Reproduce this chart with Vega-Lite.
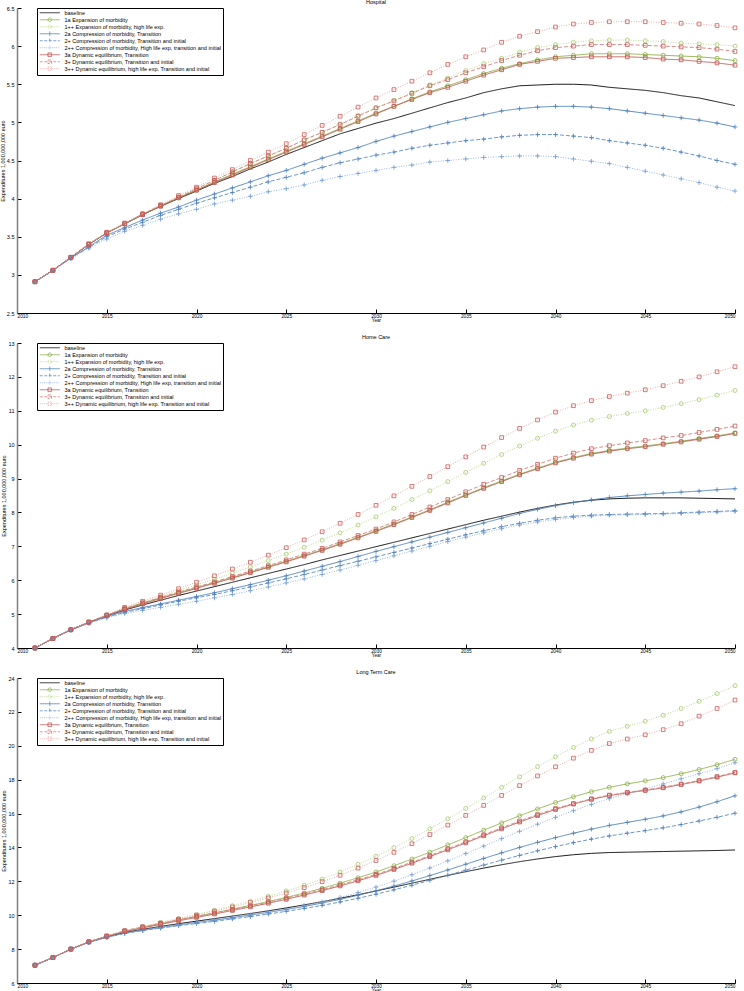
{
"$schema": "https://vega.github.io/schema/vega-lite/v6.json",
"padding": {"left": 0, "top": 0, "right": 6, "bottom": 0},
"config": {
  "view": {"stroke": null},
  "font": "Liberation Sans",
  "title": {"fontSize": 5.5, "fontWeight": "normal", "font": "Liberation Sans", "offset": 0.5, "color": "black", "frame": "group"},
  "axis": {"labelFont": "Liberation Sans", "labelFontSize": 5.5, "titleFont": "Liberation Sans", "titleFontSize": 5.5, "titleFontWeight": "normal", "grid": false, "tickSize": -4, "labelPadding": 7, "domainColor": "black", "tickColor": "black", "labelColor": "black", "titleColor": "black", "tickWidth": 1, "domainWidth": 1},
  "axisY": {"domainColor": "#808080", "domainWidth": 1.5, "titlePadding": 1},
  "axisX": {"titlePadding": 0, "labelPadding": 4, "labelFontSize": 4.8, "titleFontSize": 4.6},
  "legend": {"orient": "none", "legendX": 20, "legendY": 0, "padding": 2, "strokeColor": "black", "fillColor": "white", "labelFont": "Liberation Sans", "labelFontSize": 5.5, "labelLimit": 300, "symbolSize": 16, "symbolStrokeWidth": 0.8, "rowPadding": -2, "labelOffset": 20, "title": null}
},
"datasets": {
"hosp": [
{"year":2011,"b":2.91,"1a":2.91,"1pp":2.91,"2a":2.91,"2p":2.91,"2pp":2.91,"3a":2.91,"3p":2.91,"3pp":2.91},
{"year":2012,"b":3.06,"1a":3.06,"1pp":3.06,"2a":3.06,"2p":3.06,"2pp":3.06,"3a":3.06,"3p":3.06,"3pp":3.06},
{"year":2013,"b":3.23,"1a":3.23,"1pp":3.23,"2a":3.22,"2p":3.22,"2pp":3.21,"3a":3.23,"3p":3.23,"3pp":3.23},
{"year":2014,"b":3.40,"1a":3.40,"1pp":3.40,"2a":3.37,"2p":3.36,"2pp":3.35,"3a":3.40,"3p":3.40,"3pp":3.41},
{"year":2015,"b":3.55,"1a":3.55,"1pp":3.55,"2a":3.52,"2p":3.50,"2pp":3.47,"3a":3.55,"3p":3.55,"3pp":3.56},
{"year":2016,"b":3.67,"1a":3.67,"1pp":3.67,"2a":3.62,"2p":3.60,"2pp":3.57,"3a":3.67,"3p":3.67,"3pp":3.68},
{"year":2017,"b":3.79,"1a":3.79,"1pp":3.80,"2a":3.72,"2p":3.69,"2pp":3.65,"3a":3.79,"3p":3.80,"3pp":3.80},
{"year":2018,"b":3.90,"1a":3.90,"1pp":3.91,"2a":3.81,"2p":3.78,"2pp":3.73,"3a":3.90,"3p":3.91,"3pp":3.92},
{"year":2019,"b":4.00,"1a":4.01,"1pp":4.02,"2a":3.89,"2p":3.86,"2pp":3.80,"3a":4.01,"3p":4.02,"3pp":4.04},
{"year":2020,"b":4.10,"1a":4.11,"1pp":4.13,"2a":3.98,"2p":3.94,"2pp":3.86,"3a":4.11,"3p":4.13,"3pp":4.15},
{"year":2021,"b":4.20,"1a":4.22,"1pp":4.24,"2a":4.06,"2p":4.01,"2pp":3.93,"3a":4.21,"3p":4.24,"3pp":4.27},
{"year":2022,"b":4.29,"1a":4.32,"1pp":4.35,"2a":4.14,"2p":4.08,"2pp":3.98,"3a":4.31,"3p":4.35,"3pp":4.38},
{"year":2023,"b":4.39,"1a":4.42,"1pp":4.46,"2a":4.22,"2p":4.15,"2pp":4.03,"3a":4.41,"3p":4.46,"3pp":4.50},
{"year":2024,"b":4.48,"1a":4.52,"1pp":4.56,"2a":4.30,"2p":4.22,"2pp":4.09,"3a":4.51,"3p":4.56,"3pp":4.61},
{"year":2025,"b":4.58,"1a":4.62,"1pp":4.66,"2a":4.37,"2p":4.28,"2pp":4.13,"3a":4.61,"3p":4.66,"3pp":4.72},
{"year":2026,"b":4.67,"1a":4.72,"1pp":4.77,"2a":4.45,"2p":4.34,"2pp":4.18,"3a":4.71,"3p":4.77,"3pp":4.84},
{"year":2027,"b":4.76,"1a":4.82,"1pp":4.87,"2a":4.53,"2p":4.41,"2pp":4.24,"3a":4.81,"3p":4.87,"3pp":4.96},
{"year":2028,"b":4.85,"1a":4.92,"1pp":4.98,"2a":4.60,"2p":4.47,"2pp":4.29,"3a":4.91,"3p":4.97,"3pp":5.08},
{"year":2029,"b":4.92,"1a":5.02,"1pp":5.09,"2a":4.67,"2p":4.52,"2pp":4.33,"3a":5.01,"3p":5.08,"3pp":5.20},
{"year":2030,"b":4.99,"1a":5.12,"1pp":5.19,"2a":4.75,"2p":4.57,"2pp":4.37,"3a":5.11,"3p":5.19,"3pp":5.32},
{"year":2031,"b":5.05,"1a":5.21,"1pp":5.29,"2a":4.82,"2p":4.61,"2pp":4.41,"3a":5.21,"3p":5.28,"3pp":5.43},
{"year":2032,"b":5.12,"1a":5.31,"1pp":5.39,"2a":4.88,"2p":4.66,"2pp":4.44,"3a":5.30,"3p":5.38,"3pp":5.54},
{"year":2033,"b":5.19,"1a":5.40,"1pp":5.49,"2a":4.94,"2p":4.70,"2pp":4.48,"3a":5.39,"3p":5.48,"3pp":5.65},
{"year":2034,"b":5.26,"1a":5.48,"1pp":5.58,"2a":5.00,"2p":4.73,"2pp":4.50,"3a":5.46,"3p":5.56,"3pp":5.76},
{"year":2035,"b":5.32,"1a":5.56,"1pp":5.68,"2a":5.05,"2p":4.76,"2pp":4.52,"3a":5.54,"3p":5.65,"3pp":5.86},
{"year":2036,"b":5.39,"1a":5.64,"1pp":5.77,"2a":5.10,"2p":4.78,"2pp":4.54,"3a":5.62,"3p":5.73,"3pp":5.95},
{"year":2037,"b":5.44,"1a":5.71,"1pp":5.84,"2a":5.15,"2p":4.81,"2pp":4.55,"3a":5.69,"3p":5.81,"3pp":6.05},
{"year":2038,"b":5.48,"1a":5.77,"1pp":5.92,"2a":5.18,"2p":4.83,"2pp":4.56,"3a":5.76,"3p":5.88,"3pp":6.13},
{"year":2039,"b":5.49,"1a":5.82,"1pp":5.98,"2a":5.20,"2p":4.84,"2pp":4.56,"3a":5.80,"3p":5.94,"3pp":6.19},
{"year":2040,"b":5.50,"1a":5.86,"1pp":6.02,"2a":5.21,"2p":4.84,"2pp":4.55,"3a":5.84,"3p":5.98,"3pp":6.25},
{"year":2041,"b":5.50,"1a":5.88,"1pp":6.05,"2a":5.21,"2p":4.82,"2pp":4.52,"3a":5.85,"3p":6.00,"3pp":6.29},
{"year":2042,"b":5.49,"1a":5.90,"1pp":6.07,"2a":5.20,"2p":4.80,"2pp":4.49,"3a":5.86,"3p":6.02,"3pp":6.31},
{"year":2043,"b":5.46,"1a":5.90,"1pp":6.08,"2a":5.18,"2p":4.76,"2pp":4.46,"3a":5.86,"3p":6.02,"3pp":6.32},
{"year":2044,"b":5.44,"1a":5.90,"1pp":6.08,"2a":5.15,"2p":4.73,"2pp":4.41,"3a":5.86,"3p":6.02,"3pp":6.32},
{"year":2045,"b":5.42,"1a":5.89,"1pp":6.07,"2a":5.12,"2p":4.70,"2pp":4.36,"3a":5.85,"3p":6.01,"3pp":6.32},
{"year":2046,"b":5.39,"1a":5.88,"1pp":6.06,"2a":5.09,"2p":4.66,"2pp":4.31,"3a":5.83,"3p":6.00,"3pp":6.31},
{"year":2047,"b":5.35,"1a":5.87,"1pp":6.04,"2a":5.06,"2p":4.61,"2pp":4.26,"3a":5.82,"3p":5.99,"3pp":6.30},
{"year":2048,"b":5.32,"1a":5.86,"1pp":6.03,"2a":5.03,"2p":4.56,"2pp":4.21,"3a":5.80,"3p":5.98,"3pp":6.29},
{"year":2049,"b":5.27,"1a":5.84,"1pp":6.02,"2a":4.99,"2p":4.50,"2pp":4.15,"3a":5.78,"3p":5.96,"3pp":6.27},
{"year":2050,"b":5.22,"1a":5.81,"1pp":6.00,"2a":4.94,"2p":4.45,"2pp":4.10,"3a":5.75,"3p":5.93,"3pp":6.24}
],
"home": [
{"year":2011,"b":4.00,"1a":4.00,"1pp":4.00,"2a":4.00,"2p":4.00,"2pp":4.00,"3a":4.00,"3p":4.00,"3pp":4.00},
{"year":2012,"b":4.28,"1a":4.28,"1pp":4.28,"2a":4.28,"2p":4.28,"2pp":4.28,"3a":4.28,"3p":4.28,"3pp":4.28},
{"year":2013,"b":4.54,"1a":4.54,"1pp":4.54,"2a":4.53,"2p":4.53,"2pp":4.53,"3a":4.54,"3p":4.54,"3pp":4.54},
{"year":2014,"b":4.76,"1a":4.76,"1pp":4.76,"2a":4.74,"2p":4.74,"2pp":4.73,"3a":4.76,"3p":4.76,"3pp":4.77},
{"year":2015,"b":4.95,"1a":4.96,"1pp":4.97,"2a":4.93,"2p":4.91,"2pp":4.89,"3a":4.96,"3p":4.96,"3pp":4.98},
{"year":2016,"b":5.12,"1a":5.16,"1pp":5.18,"2a":5.08,"2p":5.05,"2pp":5.02,"3a":5.14,"3p":5.16,"3pp":5.20},
{"year":2017,"b":5.27,"1a":5.32,"1pp":5.35,"2a":5.19,"2p":5.16,"2pp":5.11,"3a":5.30,"3p":5.33,"3pp":5.38},
{"year":2018,"b":5.41,"1a":5.48,"1pp":5.52,"2a":5.30,"2p":5.27,"2pp":5.20,"3a":5.46,"3p":5.49,"3pp":5.56},
{"year":2019,"b":5.55,"1a":5.63,"1pp":5.69,"2a":5.41,"2p":5.38,"2pp":5.29,"3a":5.61,"3p":5.65,"3pp":5.75},
{"year":2020,"b":5.68,"1a":5.78,"1pp":5.86,"2a":5.52,"2p":5.48,"2pp":5.38,"3a":5.76,"3p":5.80,"3pp":5.94},
{"year":2021,"b":5.81,"1a":5.93,"1pp":6.03,"2a":5.63,"2p":5.58,"2pp":5.48,"3a":5.91,"3p":5.95,"3pp":6.13},
{"year":2022,"b":5.94,"1a":6.08,"1pp":6.21,"2a":5.75,"2p":5.69,"2pp":5.58,"3a":6.06,"3p":6.11,"3pp":6.33},
{"year":2023,"b":6.07,"1a":6.24,"1pp":6.39,"2a":5.87,"2p":5.80,"2pp":5.69,"3a":6.22,"3p":6.27,"3pp":6.53},
{"year":2024,"b":6.20,"1a":6.40,"1pp":6.58,"2a":6.00,"2p":5.92,"2pp":5.80,"3a":6.38,"3p":6.43,"3pp":6.74},
{"year":2025,"b":6.33,"1a":6.56,"1pp":6.77,"2a":6.13,"2p":6.04,"2pp":5.92,"3a":6.54,"3p":6.60,"3pp":6.96},
{"year":2026,"b":6.46,"1a":6.73,"1pp":6.97,"2a":6.27,"2p":6.17,"2pp":6.04,"3a":6.71,"3p":6.77,"3pp":7.19},
{"year":2027,"b":6.60,"1a":6.90,"1pp":7.18,"2a":6.41,"2p":6.30,"2pp":6.17,"3a":6.88,"3p":6.94,"3pp":7.43},
{"year":2028,"b":6.73,"1a":7.08,"1pp":7.40,"2a":6.55,"2p":6.43,"2pp":6.30,"3a":7.06,"3p":7.13,"3pp":7.68},
{"year":2029,"b":6.86,"1a":7.27,"1pp":7.63,"2a":6.70,"2p":6.56,"2pp":6.44,"3a":7.25,"3p":7.32,"3pp":7.94},
{"year":2030,"b":6.99,"1a":7.46,"1pp":7.87,"2a":6.85,"2p":6.69,"2pp":6.58,"3a":7.44,"3p":7.51,"3pp":8.21},
{"year":2031,"b":7.12,"1a":7.66,"1pp":8.12,"2a":6.99,"2p":6.82,"2pp":6.72,"3a":7.64,"3p":7.72,"3pp":8.49},
{"year":2032,"b":7.25,"1a":7.87,"1pp":8.38,"2a":7.13,"2p":6.95,"2pp":6.86,"3a":7.85,"3p":7.94,"3pp":8.77},
{"year":2033,"b":7.38,"1a":8.08,"1pp":8.64,"2a":7.27,"2p":7.08,"2pp":7.00,"3a":8.06,"3p":8.16,"3pp":9.06},
{"year":2034,"b":7.51,"1a":8.30,"1pp":8.91,"2a":7.41,"2p":7.21,"2pp":7.14,"3a":8.28,"3p":8.38,"3pp":9.35},
{"year":2035,"b":7.64,"1a":8.52,"1pp":9.18,"2a":7.55,"2p":7.34,"2pp":7.27,"3a":8.50,"3p":8.61,"3pp":9.64},
{"year":2036,"b":7.77,"1a":8.73,"1pp":9.45,"2a":7.69,"2p":7.46,"2pp":7.40,"3a":8.71,"3p":8.83,"3pp":9.93},
{"year":2037,"b":7.89,"1a":8.93,"1pp":9.71,"2a":7.83,"2p":7.58,"2pp":7.52,"3a":8.91,"3p":9.03,"3pp":10.21},
{"year":2038,"b":8.01,"1a":9.13,"1pp":9.96,"2a":7.97,"2p":7.68,"2pp":7.63,"3a":9.11,"3p":9.24,"3pp":10.48},
{"year":2039,"b":8.12,"1a":9.31,"1pp":10.19,"2a":8.09,"2p":7.77,"2pp":7.72,"3a":9.29,"3p":9.42,"3pp":10.73},
{"year":2040,"b":8.22,"1a":9.48,"1pp":10.40,"2a":8.20,"2p":7.84,"2pp":7.79,"3a":9.46,"3p":9.60,"3pp":10.96},
{"year":2041,"b":8.30,"1a":9.62,"1pp":10.58,"2a":8.29,"2p":7.89,"2pp":7.85,"3a":9.60,"3p":9.75,"3pp":11.15},
{"year":2042,"b":8.36,"1a":9.74,"1pp":10.72,"2a":8.37,"2p":7.92,"2pp":7.89,"3a":9.72,"3p":9.88,"3pp":11.30},
{"year":2043,"b":8.40,"1a":9.83,"1pp":10.83,"2a":8.44,"2p":7.94,"2pp":7.92,"3a":9.81,"3p":9.97,"3pp":11.42},
{"year":2044,"b":8.42,"1a":9.90,"1pp":10.92,"2a":8.49,"2p":7.95,"2pp":7.93,"3a":9.88,"3p":10.05,"3pp":11.52},
{"year":2045,"b":8.43,"1a":9.96,"1pp":11.00,"2a":8.53,"2p":7.96,"2pp":7.94,"3a":9.94,"3p":10.12,"3pp":11.62},
{"year":2046,"b":8.43,"1a":10.03,"1pp":11.10,"2a":8.57,"2p":7.97,"2pp":7.95,"3a":10.01,"3p":10.20,"3pp":11.74},
{"year":2047,"b":8.43,"1a":10.10,"1pp":11.21,"2a":8.60,"2p":7.99,"2pp":7.97,"3a":10.08,"3p":10.27,"3pp":11.87},
{"year":2048,"b":8.42,"1a":10.18,"1pp":11.33,"2a":8.63,"2p":8.01,"2pp":7.99,"3a":10.16,"3p":10.36,"3pp":12.00},
{"year":2049,"b":8.41,"1a":10.26,"1pp":11.46,"2a":8.67,"2p":8.03,"2pp":8.01,"3a":10.24,"3p":10.45,"3pp":12.15},
{"year":2050,"b":8.40,"1a":10.35,"1pp":11.60,"2a":8.70,"2p":8.05,"2pp":8.03,"3a":10.33,"3p":10.55,"3pp":12.30}
],
"ltc": [
{"year":2011,"b":7.05,"1a":7.05,"1pp":7.05,"2a":7.05,"2p":7.05,"2pp":7.05,"3a":7.05,"3p":7.05,"3pp":7.05},
{"year":2012,"b":7.50,"1a":7.50,"1pp":7.50,"2a":7.50,"2p":7.50,"2pp":7.50,"3a":7.50,"3p":7.50,"3pp":7.50},
{"year":2013,"b":8.00,"1a":8.00,"1pp":8.00,"2a":8.00,"2p":8.00,"2pp":8.00,"3a":8.00,"3p":8.00,"3pp":8.00},
{"year":2014,"b":8.42,"1a":8.43,"1pp":8.43,"2a":8.40,"2p":8.40,"2pp":8.40,"3a":8.43,"3p":8.43,"3pp":8.43},
{"year":2015,"b":8.73,"1a":8.76,"1pp":8.77,"2a":8.70,"2p":8.69,"2pp":8.70,"3a":8.75,"3p":8.77,"3pp":8.77},
{"year":2016,"b":8.98,"1a":9.05,"1pp":9.08,"2a":8.95,"2p":8.93,"2pp":8.93,"3a":9.03,"3p":9.09,"3pp":9.07},
{"year":2017,"b":9.17,"1a":9.28,"1pp":9.33,"2a":9.12,"2p":9.09,"2pp":9.09,"3a":9.25,"3p":9.31,"3pp":9.31},
{"year":2018,"b":9.34,"1a":9.50,"1pp":9.57,"2a":9.28,"2p":9.24,"2pp":9.25,"3a":9.46,"3p":9.52,"3pp":9.54},
{"year":2019,"b":9.50,"1a":9.72,"1pp":9.81,"2a":9.43,"2p":9.38,"2pp":9.40,"3a":9.67,"3p":9.73,"3pp":9.77},
{"year":2020,"b":9.65,"1a":9.93,"1pp":10.05,"2a":9.57,"2p":9.51,"2pp":9.54,"3a":9.87,"3p":9.93,"3pp":10.00},
{"year":2021,"b":9.80,"1a":10.14,"1pp":10.30,"2a":9.71,"2p":9.64,"2pp":9.68,"3a":10.07,"3p":10.13,"3pp":10.24},
{"year":2022,"b":9.95,"1a":10.36,"1pp":10.56,"2a":9.86,"2p":9.78,"2pp":9.83,"3a":10.28,"3p":10.34,"3pp":10.49},
{"year":2023,"b":10.10,"1a":10.58,"1pp":10.83,"2a":10.01,"2p":9.92,"2pp":9.99,"3a":10.49,"3p":10.55,"3pp":10.75},
{"year":2024,"b":10.26,"1a":10.81,"1pp":11.12,"2a":10.17,"2p":10.07,"2pp":10.16,"3a":10.71,"3p":10.77,"3pp":11.02},
{"year":2025,"b":10.43,"1a":11.05,"1pp":11.43,"2a":10.34,"2p":10.23,"2pp":10.35,"3a":10.94,"3p":11.00,"3pp":11.31},
{"year":2026,"b":10.61,"1a":11.31,"1pp":11.77,"2a":10.52,"2p":10.40,"2pp":10.56,"3a":11.19,"3p":11.25,"3pp":11.63},
{"year":2027,"b":10.80,"1a":11.59,"1pp":12.14,"2a":10.72,"2p":10.58,"2pp":10.79,"3a":11.45,"3p":11.51,"3pp":11.98},
{"year":2028,"b":11.00,"1a":11.89,"1pp":12.55,"2a":10.94,"2p":10.78,"2pp":11.05,"3a":11.73,"3p":11.79,"3pp":12.36},
{"year":2029,"b":11.21,"1a":12.21,"1pp":13.00,"2a":11.18,"2p":11.00,"2pp":11.34,"3a":12.03,"3p":12.09,"3pp":12.78},
{"year":2030,"b":11.43,"1a":12.55,"1pp":13.48,"2a":11.44,"2p":11.24,"2pp":11.66,"3a":12.35,"3p":12.41,"3pp":13.23},
{"year":2031,"b":11.66,"1a":12.92,"1pp":13.99,"2a":11.72,"2p":11.50,"2pp":12.01,"3a":12.70,"3p":12.76,"3pp":13.71},
{"year":2032,"b":11.89,"1a":13.31,"1pp":14.53,"2a":12.02,"2p":11.77,"2pp":12.39,"3a":13.07,"3p":13.13,"3pp":14.22},
{"year":2033,"b":12.12,"1a":13.72,"1pp":15.10,"2a":12.34,"2p":12.06,"2pp":12.79,"3a":13.46,"3p":13.52,"3pp":14.76},
{"year":2034,"b":12.35,"1a":14.15,"1pp":15.69,"2a":12.67,"2p":12.36,"2pp":13.21,"3a":13.86,"3p":13.92,"3pp":15.32},
{"year":2035,"b":12.57,"1a":14.58,"1pp":16.30,"2a":13.01,"2p":12.66,"2pp":13.64,"3a":14.27,"3p":14.33,"3pp":15.89},
{"year":2036,"b":12.78,"1a":15.02,"1pp":16.92,"2a":13.35,"2p":12.96,"2pp":14.08,"3a":14.69,"3p":14.75,"3pp":16.48},
{"year":2037,"b":12.98,"1a":15.45,"1pp":17.55,"2a":13.68,"2p":13.25,"2pp":14.52,"3a":15.10,"3p":15.16,"3pp":17.07},
{"year":2038,"b":13.16,"1a":15.87,"1pp":18.17,"2a":14.00,"2p":13.53,"2pp":14.95,"3a":15.50,"3p":15.56,"3pp":17.65},
{"year":2039,"b":13.32,"1a":16.27,"1pp":18.77,"2a":14.30,"2p":13.80,"2pp":15.37,"3a":15.88,"3p":15.94,"3pp":18.22},
{"year":2040,"b":13.46,"1a":16.65,"1pp":19.35,"2a":14.58,"2p":14.05,"2pp":15.78,"3a":16.24,"3p":16.30,"3pp":18.76},
{"year":2041,"b":13.57,"1a":16.99,"1pp":19.90,"2a":14.84,"2p":14.28,"2pp":16.17,"3a":16.56,"3p":16.59,"3pp":19.27},
{"year":2042,"b":13.65,"1a":17.29,"1pp":20.40,"2a":15.08,"2p":14.49,"2pp":16.54,"3a":16.84,"3p":16.87,"3pp":19.73},
{"year":2043,"b":13.70,"1a":17.55,"1pp":20.85,"2a":15.30,"2p":14.68,"2pp":16.88,"3a":17.06,"3p":17.09,"3pp":20.13},
{"year":2044,"b":13.72,"1a":17.75,"1pp":21.15,"2a":15.48,"2p":14.84,"2pp":17.18,"3a":17.22,"3p":17.25,"3pp":20.40},
{"year":2045,"b":13.74,"1a":17.93,"1pp":21.45,"2a":15.66,"2p":14.99,"2pp":17.45,"3a":17.36,"3p":17.39,"3pp":20.65},
{"year":2046,"b":13.76,"1a":18.12,"1pp":21.80,"2a":15.86,"2p":15.16,"2pp":17.75,"3a":17.52,"3p":17.55,"3pp":20.95},
{"year":2047,"b":13.78,"1a":18.35,"1pp":22.20,"2a":16.10,"2p":15.35,"2pp":18.05,"3a":17.71,"3p":17.74,"3pp":21.30},
{"year":2048,"b":13.80,"1a":18.60,"1pp":22.62,"2a":16.38,"2p":15.56,"2pp":18.35,"3a":17.92,"3p":17.95,"3pp":21.75},
{"year":2049,"b":13.82,"1a":18.88,"1pp":23.08,"2a":16.70,"2p":15.78,"2pp":18.65,"3a":18.15,"3p":18.18,"3pp":22.20},
{"year":2050,"b":13.85,"1a":19.20,"1pp":23.55,"2a":17.05,"2p":16.02,"2pp":19.00,"3a":18.40,"3p":18.43,"3pp":22.70}
]
},
"spacing": 30,
"bounds": "flush",
"vconcat": [
{
 "title": "Hospital",
 "width": 718, "height": 305,
 "data": {"name": "hosp"},
 "transform": [{"fold": ["b","1a","1pp","2a","2p","2pp","3a","3p","3pp"], "as": ["series","value"]}],
 "encoding": {
  "x": {"field": "year", "type": "quantitative", "scale": {"domain": [2010,2050], "nice": false}, "axis": {"values": [2010,2015,2020,2025,2030,2035,2040,2045,2050], "format": "d", "title": "Year"}},
  "y": {"field": "value", "type": "quantitative", "scale": {"domain": [2.5,6.5], "nice": false, "zero": false}, "axis": {"values": [2.5,3,3.5,4,4.5,5,5.5,6,6.5], "format": "~g", "title": "Expenditures 1,000,000,000 euro"}}
 },
 "layer": [
  {"mark": {"type": "line", "strokeWidth": 0.9},
   "encoding": {
    "color": {"field": "series", "type": "nominal", "scale": {"domain": ["b","1a","1pp","2a","2p","2pp","3a","3p","3pp"], "range": ["#000000","#8CB045","#B9D58C","#4A7EBB","#5A8BC8","#8FB0E0","#C0504D","#D77F7C","#E4A6A4"]},
     "legend": {"rowPadding": -2, "labelExpr": "datum.value === 'b' ? 'baseline' : datum.value === '1a' ? '1a Expansion of morbidity' : datum.value === '1pp' ? '1++ Expansion of morbidity, high life exp.' : datum.value === '2a' ? '2a Compression of morbidity, Transition' : datum.value === '2p' ? '2+ Compression of morbidity, Transition and initial' : datum.value === '2pp' ? '2++ Compression of morbidity, High life exp, transition and initial' : datum.value === '3a' ? '3a Dynamic equilibrium, Transition' : datum.value === '3p' ? '3+ Dynamic equilibrium, Transition and initial' : '3++ Dynamic equilibrium, high life exp. Transition and initial'",
      "encode": {"symbols": {"update": {"fill": {"value": "transparent"}, "strokeDash": {"signal": "(datum.value === '2p' || datum.value === '3p') ? [3,1.5] : (datum.value === '1pp' || datum.value === '2pp' || datum.value === '3pp') ? [1,1] : [1,0]"}, "shape": {"signal": "datum.value === 'b' ? 'M-1,0H9' : (datum.value === '1a' || datum.value === '1pp') ? 'M-1,0H9M4.9,0A0.9,0.9 0 1 1 3.1,0A0.9,0.9 0 1 1 4.9,0' : (datum.value === '2a' || datum.value === '2p' || datum.value === '2pp') ? 'M-1,0H9M4,-1.1V1.1' : 'M-1,0H9M3.1,-0.9H4.9V0.9H3.1Z'"}}}}}},
    "strokeDash": {"field": "series", "type": "nominal", "scale": {"domain": ["b","1a","1pp","2a","2p","2pp","3a","3p","3pp"], "range": [[1,0],[1,0],[1,1.5],[1,0],[4,2],[1,1.5],[1,0],[4,2],[1,1.5]]}, "legend": null}
   }},
  {"transform": [{"filter": {"field": "series", "oneOf": ["1a","1pp"]}}],
   "mark": {"type": "point", "shape": "circle", "filled": false, "size": 16, "strokeWidth": 0.8, "opacity": 1},
   "encoding": {"color": {"field": "series", "type": "nominal", "scale": {"domain": ["1a","1pp"], "range": ["#8CB045","#A8CA72"]}, "legend": null}}},
  {"transform": [{"filter": {"field": "series", "oneOf": ["2a","2p","2pp"]}}],
   "mark": {"type": "point", "shape": "M-1,0H1M0,-1V1", "filled": false, "size": 22, "strokeWidth": 0.8, "opacity": 1},
   "encoding": {"color": {"field": "series", "type": "nominal", "scale": {"domain": ["2a","2p","2pp"], "range": ["#4A7EBB","#4A7EBB","#6E98D0"]}, "legend": null}}},
  {"transform": [{"filter": {"field": "series", "oneOf": ["3a","3p","3pp"]}}],
   "mark": {"type": "point", "shape": "square", "filled": false, "size": 14, "strokeWidth": 0.8, "opacity": 1},
   "encoding": {"color": {"field": "series", "type": "nominal", "scale": {"domain": ["3a","3p","3pp"], "range": ["#C0504D","#C85A57","#CC5E5B"]}, "legend": null}}}
 ],
 "resolve": {"scale": {"color": "independent"}}
},
{
 "title": "Home Care",
 "width": 718, "height": 305,
 "data": {"name": "home"},
 "transform": [{"fold": ["b","1a","1pp","2a","2p","2pp","3a","3p","3pp"], "as": ["series","value"]}],
 "encoding": {
  "x": {"field": "year", "type": "quantitative", "scale": {"domain": [2010,2050], "nice": false}, "axis": {"values": [2010,2015,2020,2025,2030,2035,2040,2045,2050], "format": "d", "title": "Year"}},
  "y": {"field": "value", "type": "quantitative", "scale": {"domain": [4,13], "nice": false, "zero": false}, "axis": {"values": [4,5,6,7,8,9,10,11,12,13], "format": "~g", "title": "Expenditures 1,000,000,000 euro"}}
 },
 "layer": [
  {"mark": {"type": "line", "strokeWidth": 0.9},
   "encoding": {
    "color": {"field": "series", "type": "nominal", "scale": {"domain": ["b","1a","1pp","2a","2p","2pp","3a","3p","3pp"], "range": ["#000000","#8CB045","#B9D58C","#4A7EBB","#5A8BC8","#8FB0E0","#C0504D","#D77F7C","#E4A6A4"]},
     "legend": {"rowPadding": -2, "labelExpr": "datum.value === 'b' ? 'baseline' : datum.value === '1a' ? '1a Expansion of morbidity' : datum.value === '1pp' ? '1++ Expansion of morbidity, high life exp.' : datum.value === '2a' ? '2a Compression of morbidity, Transition' : datum.value === '2p' ? '2+ Compression of morbidity, Transition and initial' : datum.value === '2pp' ? '2++ Compression of morbidity, High life exp, transition and initial' : datum.value === '3a' ? '3a Dynamic equilibrium, Transition' : datum.value === '3p' ? '3+ Dynamic equilibrium, Transition and initial' : '3++ Dynamic equilibrium, high life exp. Transition and initial'",
      "encode": {"symbols": {"update": {"fill": {"value": "transparent"}, "strokeDash": {"signal": "(datum.value === '2p' || datum.value === '3p') ? [3,1.5] : (datum.value === '1pp' || datum.value === '2pp' || datum.value === '3pp') ? [1,1] : [1,0]"}, "shape": {"signal": "datum.value === 'b' ? 'M-1,0H9' : (datum.value === '1a' || datum.value === '1pp') ? 'M-1,0H9M4.9,0A0.9,0.9 0 1 1 3.1,0A0.9,0.9 0 1 1 4.9,0' : (datum.value === '2a' || datum.value === '2p' || datum.value === '2pp') ? 'M-1,0H9M4,-1.1V1.1' : 'M-1,0H9M3.1,-0.9H4.9V0.9H3.1Z'"}}}}}},
    "strokeDash": {"field": "series", "type": "nominal", "scale": {"domain": ["b","1a","1pp","2a","2p","2pp","3a","3p","3pp"], "range": [[1,0],[1,0],[1,1.5],[1,0],[4,2],[1,1.5],[1,0],[4,2],[1,1.5]]}, "legend": null}
   }},
  {"transform": [{"filter": {"field": "series", "oneOf": ["1a","1pp"]}}],
   "mark": {"type": "point", "shape": "circle", "filled": false, "size": 16, "strokeWidth": 0.8, "opacity": 1},
   "encoding": {"color": {"field": "series", "type": "nominal", "scale": {"domain": ["1a","1pp"], "range": ["#8CB045","#A8CA72"]}, "legend": null}}},
  {"transform": [{"filter": {"field": "series", "oneOf": ["2a","2p","2pp"]}}],
   "mark": {"type": "point", "shape": "M-1,0H1M0,-1V1", "filled": false, "size": 22, "strokeWidth": 0.8, "opacity": 1},
   "encoding": {"color": {"field": "series", "type": "nominal", "scale": {"domain": ["2a","2p","2pp"], "range": ["#4A7EBB","#4A7EBB","#6E98D0"]}, "legend": null}}},
  {"transform": [{"filter": {"field": "series", "oneOf": ["3a","3p","3pp"]}}],
   "mark": {"type": "point", "shape": "square", "filled": false, "size": 14, "strokeWidth": 0.8, "opacity": 1},
   "encoding": {"color": {"field": "series", "type": "nominal", "scale": {"domain": ["3a","3p","3pp"], "range": ["#C0504D","#C85A57","#CC5E5B"]}, "legend": null}}}
 ],
 "resolve": {"scale": {"color": "independent"}}
},
{
 "title": "Long Term Care",
 "width": 718, "height": 305,
 "data": {"name": "ltc"},
 "transform": [{"fold": ["b","1a","1pp","2a","2p","2pp","3a","3p","3pp"], "as": ["series","value"]}],
 "encoding": {
  "x": {"field": "year", "type": "quantitative", "scale": {"domain": [2010,2050], "nice": false}, "axis": {"values": [2010,2015,2020,2025,2030,2035,2040,2045,2050], "format": "d", "title": "Year"}},
  "y": {"field": "value", "type": "quantitative", "scale": {"domain": [6,24], "nice": false, "zero": false}, "axis": {"values": [6,8,10,12,14,16,18,20,22,24], "format": "~g", "title": "Expenditures 1,000,000,000 euro"}}
 },
 "layer": [
  {"mark": {"type": "line", "strokeWidth": 0.9},
   "encoding": {
    "color": {"field": "series", "type": "nominal", "scale": {"domain": ["b","1a","1pp","2a","2p","2pp","3a","3p","3pp"], "range": ["#000000","#8CB045","#B9D58C","#4A7EBB","#5A8BC8","#8FB0E0","#C0504D","#D77F7C","#E4A6A4"]},
     "legend": {"rowPadding": -2, "labelExpr": "datum.value === 'b' ? 'baseline' : datum.value === '1a' ? '1a Expansion of morbidity' : datum.value === '1pp' ? '1++ Expansion of morbidity, high life exp.' : datum.value === '2a' ? '2a Compression of morbidity, Transition' : datum.value === '2p' ? '2+ Compression of morbidity, Transition and initial' : datum.value === '2pp' ? '2++ Compression of morbidity, High life exp, transition and initial' : datum.value === '3a' ? '3a Dynamic equilibrium, Transition' : datum.value === '3p' ? '3+ Dynamic equilibrium, Transition and initial' : '3++ Dynamic equilibrium, high life exp. Transition and initial'",
      "encode": {"symbols": {"update": {"fill": {"value": "transparent"}, "strokeDash": {"signal": "(datum.value === '2p' || datum.value === '3p') ? [3,1.5] : (datum.value === '1pp' || datum.value === '2pp' || datum.value === '3pp') ? [1,1] : [1,0]"}, "shape": {"signal": "datum.value === 'b' ? 'M-1,0H9' : (datum.value === '1a' || datum.value === '1pp') ? 'M-1,0H9M4.9,0A0.9,0.9 0 1 1 3.1,0A0.9,0.9 0 1 1 4.9,0' : (datum.value === '2a' || datum.value === '2p' || datum.value === '2pp') ? 'M-1,0H9M4,-1.1V1.1' : 'M-1,0H9M3.1,-0.9H4.9V0.9H3.1Z'"}}}}}},
    "strokeDash": {"field": "series", "type": "nominal", "scale": {"domain": ["b","1a","1pp","2a","2p","2pp","3a","3p","3pp"], "range": [[1,0],[1,0],[1,1.5],[1,0],[4,2],[1,1.5],[1,0],[4,2],[1,1.5]]}, "legend": null}
   }},
  {"transform": [{"filter": {"field": "series", "oneOf": ["1a","1pp"]}}],
   "mark": {"type": "point", "shape": "circle", "filled": false, "size": 16, "strokeWidth": 0.8, "opacity": 1},
   "encoding": {"color": {"field": "series", "type": "nominal", "scale": {"domain": ["1a","1pp"], "range": ["#8CB045","#A8CA72"]}, "legend": null}}},
  {"transform": [{"filter": {"field": "series", "oneOf": ["2a","2p","2pp"]}}],
   "mark": {"type": "point", "shape": "M-1,0H1M0,-1V1", "filled": false, "size": 22, "strokeWidth": 0.8, "opacity": 1},
   "encoding": {"color": {"field": "series", "type": "nominal", "scale": {"domain": ["2a","2p","2pp"], "range": ["#4A7EBB","#4A7EBB","#6E98D0"]}, "legend": null}}},
  {"transform": [{"filter": {"field": "series", "oneOf": ["3a","3p","3pp"]}}],
   "mark": {"type": "point", "shape": "square", "filled": false, "size": 14, "strokeWidth": 0.8, "opacity": 1},
   "encoding": {"color": {"field": "series", "type": "nominal", "scale": {"domain": ["3a","3p","3pp"], "range": ["#C0504D","#C85A57","#CC5E5B"]}, "legend": null}}}
 ],
 "resolve": {"scale": {"color": "independent"}}
}
]
}
